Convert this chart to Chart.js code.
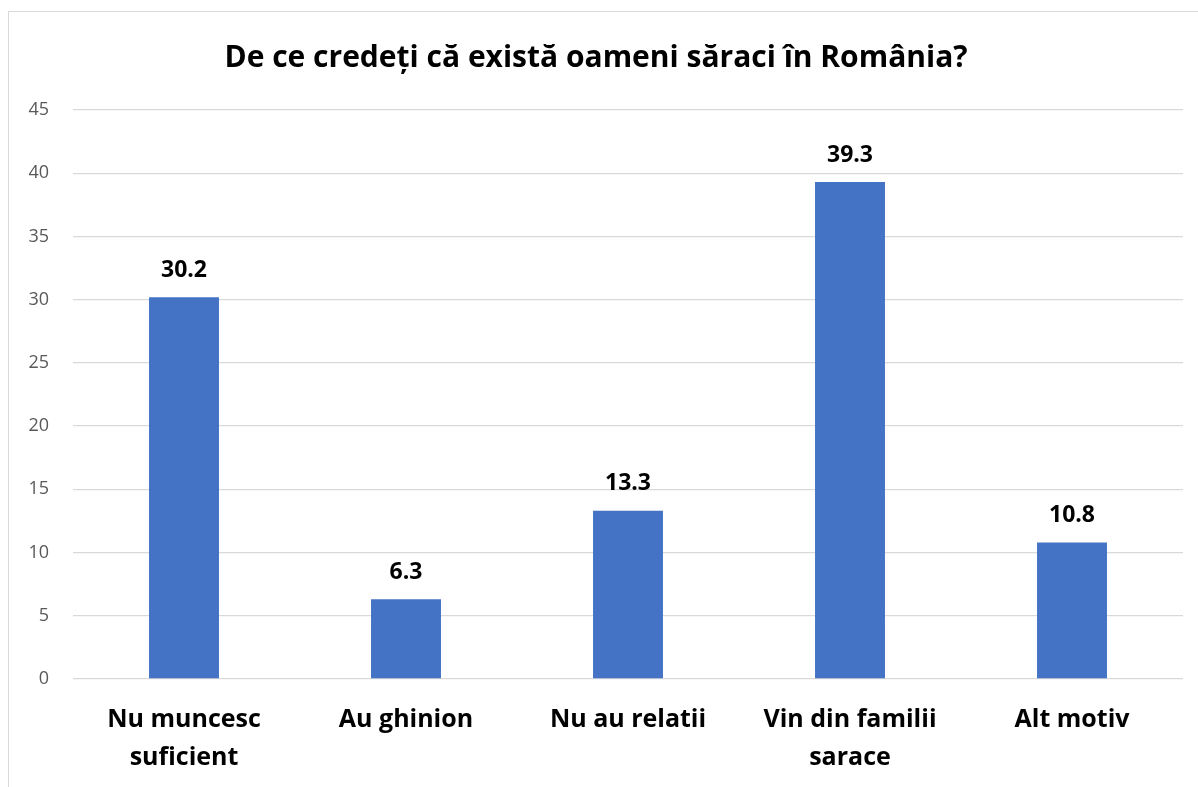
<!DOCTYPE html>
<html lang="ro">
<head>
<meta charset="UTF-8">
<title>De ce credeți că există oameni săraci în România?</title>
<script src="https://cdn.jsdelivr.net/npm/chart.js"></script>
<style>
    body {
        margin: 0;
        background: #ffffff;
        overflow: hidden;
    }
    .frame {
        position: absolute;
        left: 8px;
        top: 11px;
        width: 1200px;
        height: 800px;
        border-left: 1px solid #d9d9d9;
        border-top: 1px solid #d9d9d9;
    }
    .box {
        position: absolute;
        left: 9px;
        top: 12px;
        width: 1189px;
        height: 775px;
    }
</style>
</head>
<body>
<div class="frame"></div>
<div class="box"><canvas id="chart"></canvas></div>
<script>
const categories = [
    ['Nu muncesc', 'suficient'],
    'Au ghinion',
    'Nu au relatii',
    ['Vin din familii', 'sarace'],
    'Alt motiv'
];
const values = [30.2, 6.3, 13.3, 39.3, 10.8];
const yTicks = [0, 5, 10, 15, 20, 25, 30, 35, 40, 45];

const FONT = '"Open Sans", Lato, sans-serif';

// etichete cu valorile deasupra barelor
const valueLabels = {
    id: 'valueLabels',
    afterDatasetsDraw(chart) {
        const ctx = chart.ctx;
        const meta = chart.getDatasetMeta(0);
        ctx.save();
        ctx.font = 'bold 23px ' + FONT;
        ctx.fillStyle = '#000000';
        ctx.textAlign = 'center';
        ctx.textBaseline = 'middle';
        meta.data.forEach((bar, i) => {
            ctx.fillText(values[i].toFixed(1), bar.x, bar.y - 27);
        });
        ctx.restore();
    }
};

new Chart(document.getElementById('chart'), {
    type: 'bar',
    data: {
        labels: categories,
        datasets: [{
            data: values,
            backgroundColor: '#4472C4',
            borderWidth: 0,
            categoryPercentage: 1,
            barPercentage: 0.315
        }]
    },
    options: {
        responsive: true,
        maintainAspectRatio: false,
        animation: false,
        layout: {
            padding: { left: 0, right: 15, top: 0, bottom: 0 }
        },
        plugins: {
            legend: { display: false },
            tooltip: { enabled: false },
            title: {
                display: true,
                text: 'De ce credeți că există oameni săraci în România?',
                color: '#000000',
                font: { family: FONT, size: 30, weight: 'bold', lineHeight: 1.2 },
                padding: { top: 28, bottom: 34 }
            }
        },
        scales: {
            y: {
                min: 0,
                max: 45,
                afterBuildTicks(scale) {
                    scale.ticks = yTicks.map(v => ({ value: v }));
                },
                afterFit(scale) {
                    scale.width = 64;
                },
                border: { display: false },
                grid: {
                    color: '#d9d9d9',
                    lineWidth: 1.3,
                    drawTicks: false
                },
                ticks: {
                    padding: 24,
                    color: '#595959',
                    font: { family: FONT, size: 18 }
                }
            },
            x: {
                afterFit(scale) {
                    scale.height = 108;
                },
                border: { display: false },
                grid: { display: false, drawTicks: false },
                ticks: {
                    padding: 22,
                    color: '#000000',
                    maxRotation: 0,
                    autoSkip: false,
                    font: { family: FONT, size: 25, weight: 'bold', lineHeight: 1.52 }
                }
            }
        }
    },
    plugins: [valueLabels]
});
</script>
</body>
</html>
